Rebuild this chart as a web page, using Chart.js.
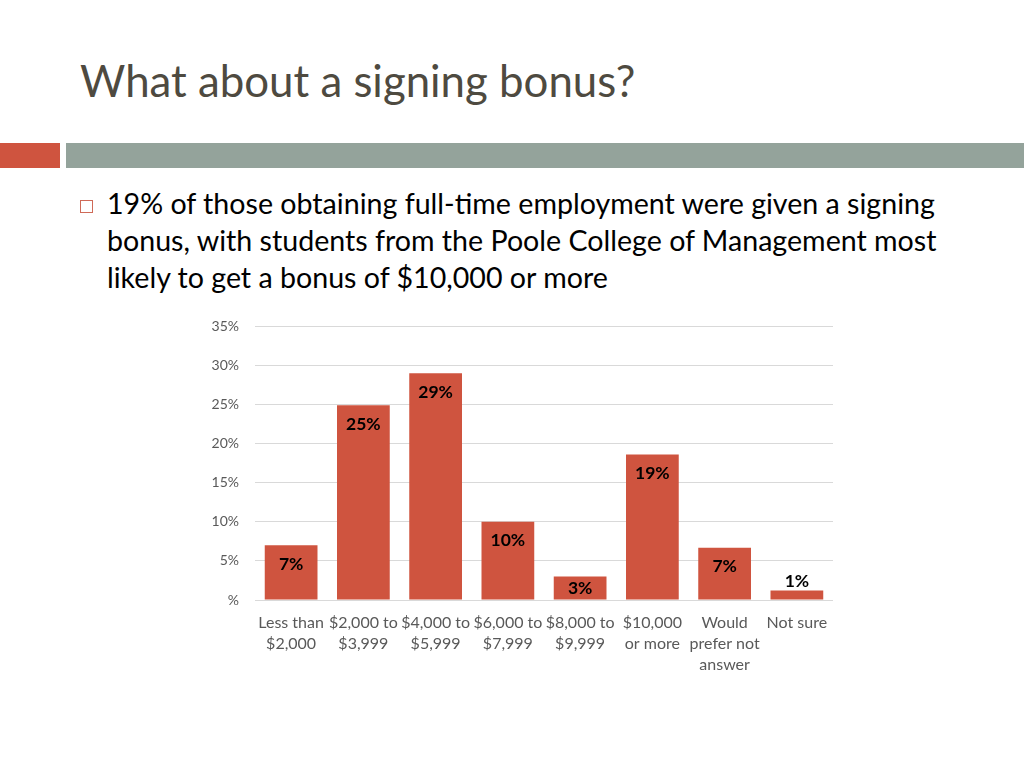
<!DOCTYPE html>
<html>
<head>
<meta charset="utf-8">
<script src="https://cdn.jsdelivr.net/npm/chart.js@4.4.0/dist/chart.umd.min.js"></script>
<style>
html,body{margin:0;padding:0;background:#fff;}
body{width:1024px;height:768px;position:relative;overflow:hidden;font-family:Lato,"Open Sans",sans-serif;}
#title{position:absolute;left:80px;top:54px;font-size:43.8px;color:#4E4A40;white-space:nowrap;}
#barA{position:absolute;left:0;top:143px;width:60px;height:25px;background:#CF543F;}
#barB{position:absolute;left:66px;top:143px;width:958px;height:25px;background:#94A39B;}
#bullet{position:absolute;left:80px;top:200px;width:11px;height:11px;border:1.5px solid #CF6A58;}
#text{position:absolute;left:107px;top:185px;width:900px;font-size:28.6px;line-height:37px;color:#000;white-space:nowrap;}
#chartBox{position:absolute;left:190px;top:302px;width:655px;height:378px;}
</style>
</head>
<body>
<div id="title">What about a signing bonus?</div>
<div id="barA"></div>
<div id="barB"></div>
<div id="bullet"></div>
<div id="text">19% of those obtaining full-time employment were given a signing<br>bonus, with students from the Poole College of Management most<br>likely to get a bonus of $10,000 or more</div>
<div id="chartBox"><canvas id="bonusChart"></canvas></div>
<script>
// ================================
// Chart Data
// ================================

const categories=[
["Less than","$2,000"],
["$2,000 to","$3,999"],
["$4,000 to","$5,999"],
["$6,000 to","$7,999"],
["$8,000 to","$9,999"],
["$10,000","or more"],
["Would","prefer not","answer"],
["Not sure"]
];

const shares=[7.0,24.9,29.0,10.0,3.0,18.6,6.7,1.2];

const shareLabels=["7%","25%","29%","10%","3%","19%","7%","1%"];

const yTicks=[0,5,10,15,20,25,30,35];

// ================================
// Data Labels
// ================================

const barLabels={

id:"barLabels",

afterDatasetsDraw(chart){

const ctx=chart.ctx;
const meta=chart.getDatasetMeta(0);
const base=chart.scales.y.getPixelForValue(0);

ctx.save();
ctx.font="bold 17.5px Lato, sans-serif";
ctx.fillStyle="#000";
ctx.textAlign="center";
ctx.textBaseline="middle";

meta.data.forEach(function(bar,i){

const h=base-bar.y;
let y;

if(h>=20){
y=Math.min(bar.y+19,base-12);
}else{
y=bar.y-9;
}

ctx.fillText(shareLabels[i],bar.x,y);

});

ctx.restore();

}

};

// ================================
// Bar Chart
// ================================

new Chart(

document.getElementById("bonusChart"),

{

type:"bar",

data:{

labels:categories,

datasets:[{

data:shares,

backgroundColor:"#CF543F",

categoryPercentage:1,

barPercentage:0.73

}]

},

options:{

responsive:true,

maintainAspectRatio:false,

animation:false,

layout:{padding:{top:0,right:12,left:0,bottom:0}},

plugins:{legend:{display:false},tooltip:{enabled:false}},

scales:{

x:{

grid:{display:false,drawTicks:false},

border:{display:false},

ticks:{color:"#595959",font:{family:"Lato",size:16,lineHeight:1.32},padding:12,maxRotation:0,autoSkip:false},

afterFit(scale){scale.height=80;}

},

y:{

min:0,

max:35,

afterBuildTicks(scale){scale.ticks=yTicks.map(function(v){return {value:v};});},

grid:{color:"#D9D9D9",drawTicks:false},

border:{display:false},

ticks:{

color:"#595959",

font:{family:"Lato",size:14},

padding:16,

callback:function(v){return v===0?"%":v+"%";}

},

afterFit(scale){scale.width=65;}

}

}

},

plugins:[barLabels]

}

);
</script>
</body>
</html>
